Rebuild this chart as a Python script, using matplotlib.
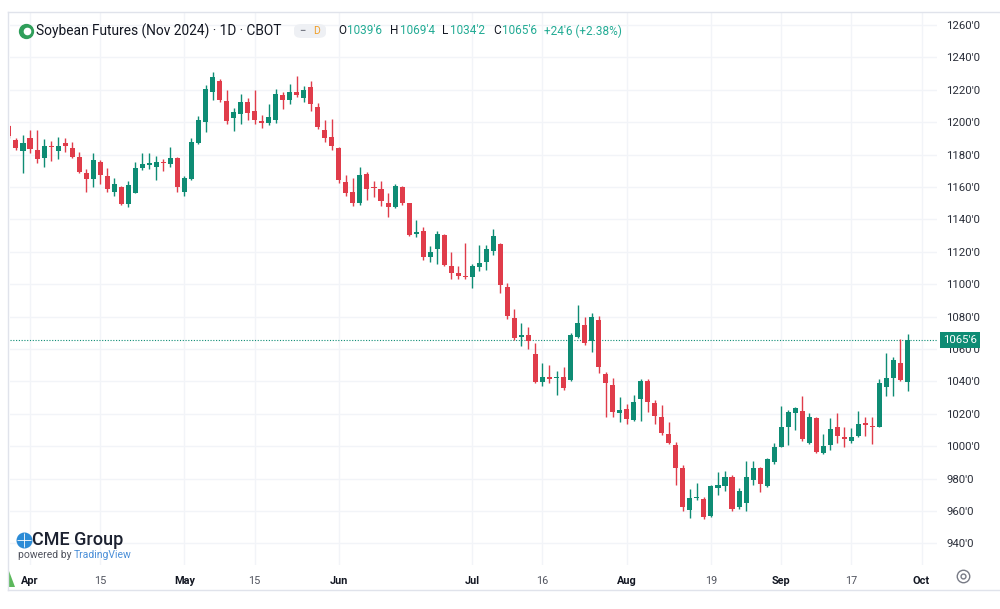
import numpy as np
import matplotlib
matplotlib.use("Agg")
import matplotlib.pyplot as plt
from matplotlib.lines import Line2D
from matplotlib.patches import FancyBboxPatch, Polygon
from matplotlib.ticker import FuncFormatter

plt.rcParams['font.family'] = ['Roboto', 'DejaVu Sans']

# ---------------- data (daily candles, 2024-03-26 .. 2024-09-27) ----------------
opens = [1197.5, 1189, 1182, 1190.5, 1183, 1178, 1185.25, 1182.5, 1187, 1184,
         1178.25, 1168.75, 1164.75, 1175.5, 1166.75, 1157, 1160.25, 1149.5, 1156.5, 1171.5,
         1173.5, 1172.5, 1175.5, 1174.25, 1178, 1156.75, 1165, 1187, 1200.25, 1218.5,
         1225.5, 1213, 1202.5, 1205, 1212.25, 1207, 1200.75, 1199.25, 1201.5, 1216.5,
         1213.75, 1218.5, 1215, 1222, 1209.5, 1195.25, 1191, 1184, 1163.25, 1157,
         1150, 1168, 1160.25, 1158.5, 1150.25, 1147.5, 1160.25, 1150, 1131, 1133,
         1116.5, 1121.5, 1130.5, 1111.25, 1106.75, 1105, 1104.25, 1110.75, 1114, 1120.75,
         1124.75, 1098, 1079, 1067.5, 1068.5, 1057, 1039.75, 1043, 1042.25, 1043,
         1041, 1067.25, 1074.75, 1065, 1078, 1044.5, 1037.75, 1020.25, 1022.75, 1016.25,
         1029, 1040.5, 1026.5, 1017.75, 1007.5, 1000.75, 986.5, 960.5, 968, 967.25,
         957, 974.5, 975.5, 980.75, 962.25, 965, 979, 986.5, 975.5, 990.5,
         999.75, 1012, 1020.25, 1022, 1001.75, 1017.25, 996, 1000.75, 1011.75, 1005.5,
         1003.5, 1006.25, 1014.5, 1012.5, 1012, 1036.75, 1042, 1051.5, 1039.75]
highs = [1198, 1190, 1192, 1195, 1195, 1189.5, 1188.5, 1190.75, 1190, 1188,
         1181.75, 1171, 1181.25, 1176.75, 1171.5, 1165.5, 1160.75, 1164, 1175.5, 1181.25,
         1181.25, 1179, 1177, 1184.5, 1178.75, 1166.5, 1190.5, 1204, 1223, 1230.75,
         1226.75, 1220, 1209, 1217.25, 1214.75, 1220, 1204.5, 1211, 1220.5, 1218.5,
         1223.5, 1228.75, 1222.5, 1225.5, 1211.75, 1201.5, 1202, 1184.75, 1167.5, 1165.5,
         1172.5, 1169.5, 1164, 1164, 1156.5, 1162, 1160.75, 1150.25, 1139.5, 1135.5,
         1123.5, 1133, 1131, 1120, 1111.25, 1125.25, 1112.5, 1124.25, 1124.25, 1134,
         1125.25, 1101, 1085, 1076, 1073.5, 1064, 1051.25, 1050, 1046.5, 1048.75,
         1069.75, 1087.25, 1080, 1082, 1080.5, 1046, 1042, 1030.5, 1026, 1031.5,
         1041.25, 1041.25, 1028.5, 1025.5, 1015, 1002.75, 988.5, 973.5, 977.5, 968.75,
         976, 984.25, 985, 982.25, 974, 991, 991, 987, 992.5, 1002.25,
         1024.75, 1022.25, 1024.5, 1031, 1020.25, 1018.25, 1007.5, 1017.25, 1020.75, 1011.75,
         1011, 1022, 1018.25, 1018.25, 1041.25, 1057.75, 1055, 1066, 1069.5]
lows = [1190.5, 1183, 1168.5, 1181, 1174.5, 1172.5, 1176, 1177, 1181.75, 1177.75,
        1168.5, 1157, 1159.75, 1162, 1157, 1154.5, 1149, 1147.5, 1156, 1170.5,
        1171, 1164.25, 1170, 1172.25, 1157, 1154.5, 1164.25, 1186.5, 1194, 1213.75,
        1212.25, 1198.75, 1194.5, 1198.75, 1201.5, 1198.75, 1196.25, 1198.25, 1199.25, 1208,
        1211, 1215.75, 1212.75, 1207, 1195.75, 1188, 1182.75, 1162.25, 1154.5, 1148.25,
        1149, 1152, 1154, 1148.25, 1141.75, 1147, 1149, 1129.75, 1129, 1115,
        1114, 1112.5, 1111.25, 1103.5, 1103.5, 1103.5, 1097.5, 1108.25, 1108.75, 1118,
        1094.5, 1078.25, 1065.5, 1062, 1059.75, 1039, 1037.25, 1038.75, 1031.5, 1035,
        1040.5, 1066.5, 1062.5, 1058.25, 1045.5, 1018.25, 1018.25, 1015, 1013.75, 1015.75,
        1015.75, 1021.25, 1014, 1007, 1001.5, 976, 960.25, 955.5, 966.75, 955,
        956.5, 970, 972.5, 960.25, 961, 960.25, 976, 972, 975, 989,
        999.25, 1000.75, 1010, 1003.5, 1001.5, 996, 995.25, 997.75, 1002.25, 999.25,
        1002.25, 1005.5, 1006.25, 1001.5, 1011.75, 1031, 1031, 1040.5, 1034.25]
closes = [1191.5, 1184, 1187, 1183.5, 1177, 1185.25, 1184.5, 1185.25, 1185.25, 1178.75,
          1169.5, 1164.75, 1176.75, 1167.5, 1158.5, 1162, 1149.5, 1161.25, 1171.5, 1174.25,
          1175, 1175.5, 1174.5, 1178, 1159.75, 1165.5, 1188, 1201.5, 1220.5, 1228,
          1213.75, 1200.75, 1206, 1212.75, 1205.5, 1201.5, 1199.25, 1203.5, 1217.25, 1213.75,
          1218.75, 1216.5, 1220, 1211, 1197.25, 1190.5, 1185, 1164.25, 1156, 1150.25,
          1167.5, 1158.5, 1159.25, 1151.5, 1147.5, 1160.5, 1150, 1130.5, 1132.5, 1116.5,
          1120, 1131, 1112, 1107, 1105, 1104.25, 1111.25, 1113.25, 1121.5, 1129.75,
          1099.5, 1080.5, 1066.5, 1068.5, 1065, 1039.75, 1043, 1041.25, 1043, 1035.75,
          1068.5, 1076, 1064, 1079.5, 1048.75, 1039.25, 1021.25, 1022.25, 1016.5, 1027,
          1040.5, 1027, 1018.5, 1008, 1002.25, 986.5, 962.75, 967.75, 968.5, 956.5,
          975.5, 976, 981.25, 961, 972.5, 980.75, 986.5, 976.75, 992, 999.75,
          1012, 1021.25, 1023.5, 1004.25, 1017.75, 996.5, 1000, 1010.5, 1006.25, 1004.5,
          1006, 1013.75, 1013, 1011.75, 1039.25, 1042, 1053.25, 1041, 1065.75]

first_day = '2024-03-26'
holidays = ['2024-03-29', '2024-05-27', '2024-06-19', '2024-07-04', '2024-09-02']
tick_dates = ['2024-04-01', '2024-04-15', '2024-05-01', '2024-05-15', '2024-06-03',
              '2024-07-01', '2024-07-16', '2024-08-01', '2024-08-19', '2024-09-03',
              '2024-09-17', '2024-10-01']
tick_labels = ['Apr', '15', 'May', '15', 'Jun', 'Jul', '16', 'Aug', '19', 'Sep', '17', 'Oct']
price_ticks = list(range(940, 1261, 20))

title = "Soybean Futures (Nov 2024) \u00b7 1D \u00b7 CBOT"
last_open, last_high, last_low, last_close = "1039'6", "1069'4", "1034'2", "1065'6"
change_txt = "+24'6 (+2.38%)"

# ---------------- figure ----------------
W, H = 1000, 609
fig = plt.figure(figsize=(W / 100, H / 100), dpi=100)
fig.patch.set_facecolor('white')

def fx(px):
    return px / W

def fy(py):
    return 1 - py / H

ax = fig.add_axes([fx(10), fy(565), 927 / W, 553 / H])
ax.set_facecolor('white')

up, dn = '#0e8c74', '#e03c4a'
o = np.array(opens); h = np.array(highs); l = np.array(lows); c = np.array(closes)
x = np.arange(len(o))
cols = np.where(c >= o, up, dn)
ax.vlines(x, l, h, colors=cols, lw=1.0, zorder=2)
ax.bar(x, np.maximum(np.abs(c - o), 0.7), bottom=np.minimum(o, c), width=0.72,
       color=cols, linewidth=0, zorder=3)

# trading calendar for the time axis
days = np.arange(np.datetime64(first_day), np.datetime64('2024-10-10'))
tdays = days[np.is_busday(days, holidays=holidays)]
tick_pos = [int(np.where(tdays == np.datetime64(d))[0][0]) for d in tick_dates]

ax.set_xlim(0.15, 132.2)
ax.set_ylim(926.7, 1268.0)

ax.set_xticks(tick_pos)
ax.set_xticklabels(tick_labels)
ax.set_yticks(price_ticks)
ax.yaxis.tick_right()
ax.yaxis.set_major_formatter(FuncFormatter(lambda v, p: f"{int(v)}'0"))
ax.tick_params(axis='y', length=0, pad=6.5, labelsize=8.2, labelcolor='#2a2e39')
ax.tick_params(axis='x', length=0, pad=8, labelsize=7.8, labelcolor='#131722')
for lab in ax.get_xticklabels():
    if lab.get_text().isalpha():
        lab.set_fontweight('bold')
    else:
        lab.set_color('#50535e')
for s in ax.spines.values():
    s.set_visible(False)
ax.set_axisbelow(True)
ax.grid(True, color='#f2f4f8', lw=1.0)

# last price line + tag
ax.axhline(c[-1], color=up, lw=0.8, ls=(0, (1, 1.5)), zorder=1)
ax.text((960 - 10) / 927, c[-1], last_close, transform=ax.get_yaxis_transform(),
        ha='center', va='center', color='white', fontsize=8.2, zorder=10, clip_on=False,
        bbox=dict(boxstyle='square,pad=0.25', fc=up, ec='none'))

# frame lines
fig.add_artist(Line2D([fx(8), 1], [fy(12), fy(12)], color='#e0e3eb', lw=1))
fig.add_artist(Line2D([fx(8), fx(8)], [fy(12), fy(590)], color='#e0e3eb', lw=1))
fig.add_artist(Line2D([fx(8), 1], [fy(590), fy(590)], color='#e0e3eb', lw=1))

# ---------------- header ----------------
renderer = fig.canvas.get_renderer()

def seq_text(x_px, y_px, parts, size, weight='normal', gap=0.0):
    xp = x_px
    for s, col in parts:
        t = fig.text(fx(xp), fy(y_px), s, color=col, fontsize=size, va='center',
                     ha='left', fontweight=weight)
        xp += t.get_window_extent(renderer=renderer).width + gap
    return xp

fig.add_artist(Line2D([fx(26)], [fy(31)], marker='o', markersize=10, mfc='#2f9e5a',
                      mec='#2f9e5a', transform=fig.transFigure))
fig.add_artist(Line2D([fx(26.5)], [fy(31)], marker='o', markersize=4.5, mfc='white',
                      mec='white', transform=fig.transFigure))
seq_text(36, 31, [(title, '#131722')], 9.9)

pill = FancyBboxPatch((fx(294), fy(38)), fx(32), 14 / H,
                      boxstyle='round,pad=0,rounding_size=0.008', fc='#eef0f4', ec='none',
                      transform=fig.transFigure)
fig.add_artist(pill)
fig.text(fx(302), fy(31), '\u2212', color='#787b86', fontsize=8, va='center', ha='center',
         fontweight='bold')
fig.text(fx(316), fy(31), 'D', color='#f0a02a', fontsize=7.5, va='center', ha='center')

g = '#22ab94'
k = '#131722'
fs = 8.5
xx = seq_text(338, 31, [('O', k), (last_open, g)], fs, gap=1.5)
xx = seq_text(xx + 6, 31, [('H', k), (last_high, g)], fs, gap=1.5)
xx = seq_text(xx + 6, 31, [('L', k), (last_low, g)], fs, gap=1.5)
xx = seq_text(xx + 6, 31, [('C', k), (last_close, g)], fs, gap=1.5)
seq_text(xx + 6, 31, [(change_txt, g)], fs)

# ---------------- watermark / logo ----------------
fig.add_artist(Line2D([fx(24)], [fy(540)], marker='o', markersize=10.5, mfc='#2b8bd6',
                      mec='#2b8bd6', transform=fig.transFigure))
fig.add_artist(Line2D([fx(24)], [fy(540)], marker='+', markersize=10.5, mec='white',
                      mew=0.6, transform=fig.transFigure))
fig.text(fx(32), fy(540), 'CME Group', color='#1c2130', fontsize=13, va='center',
         ha='left', fontweight='medium')
xx = seq_text(18, 555, [('powered by ', '#50535e')], 7.5)
seq_text(xx, 555, [('TradingView', '#4b8fd8')], 7.5)

# bottom decorations
fig.add_artist(Polygon([[fx(9), fy(587)], [fx(9), fy(571)], [fx(15), fy(587)]],
                       closed=True, fc='#5cb85c', ec='none', transform=fig.transFigure))
fig.add_artist(Line2D([fx(963)], [fy(576)], marker='o', markersize=9, mfc='none',
                      mec='#787b86', mew=1.0, transform=fig.transFigure))
fig.add_artist(Line2D([fx(963)], [fy(576)], marker='o', markersize=3.5, mfc='none',
                      mec='#787b86', mew=1.0, transform=fig.transFigure))

fig.savefig('out.png', dpi=100, facecolor='white')
